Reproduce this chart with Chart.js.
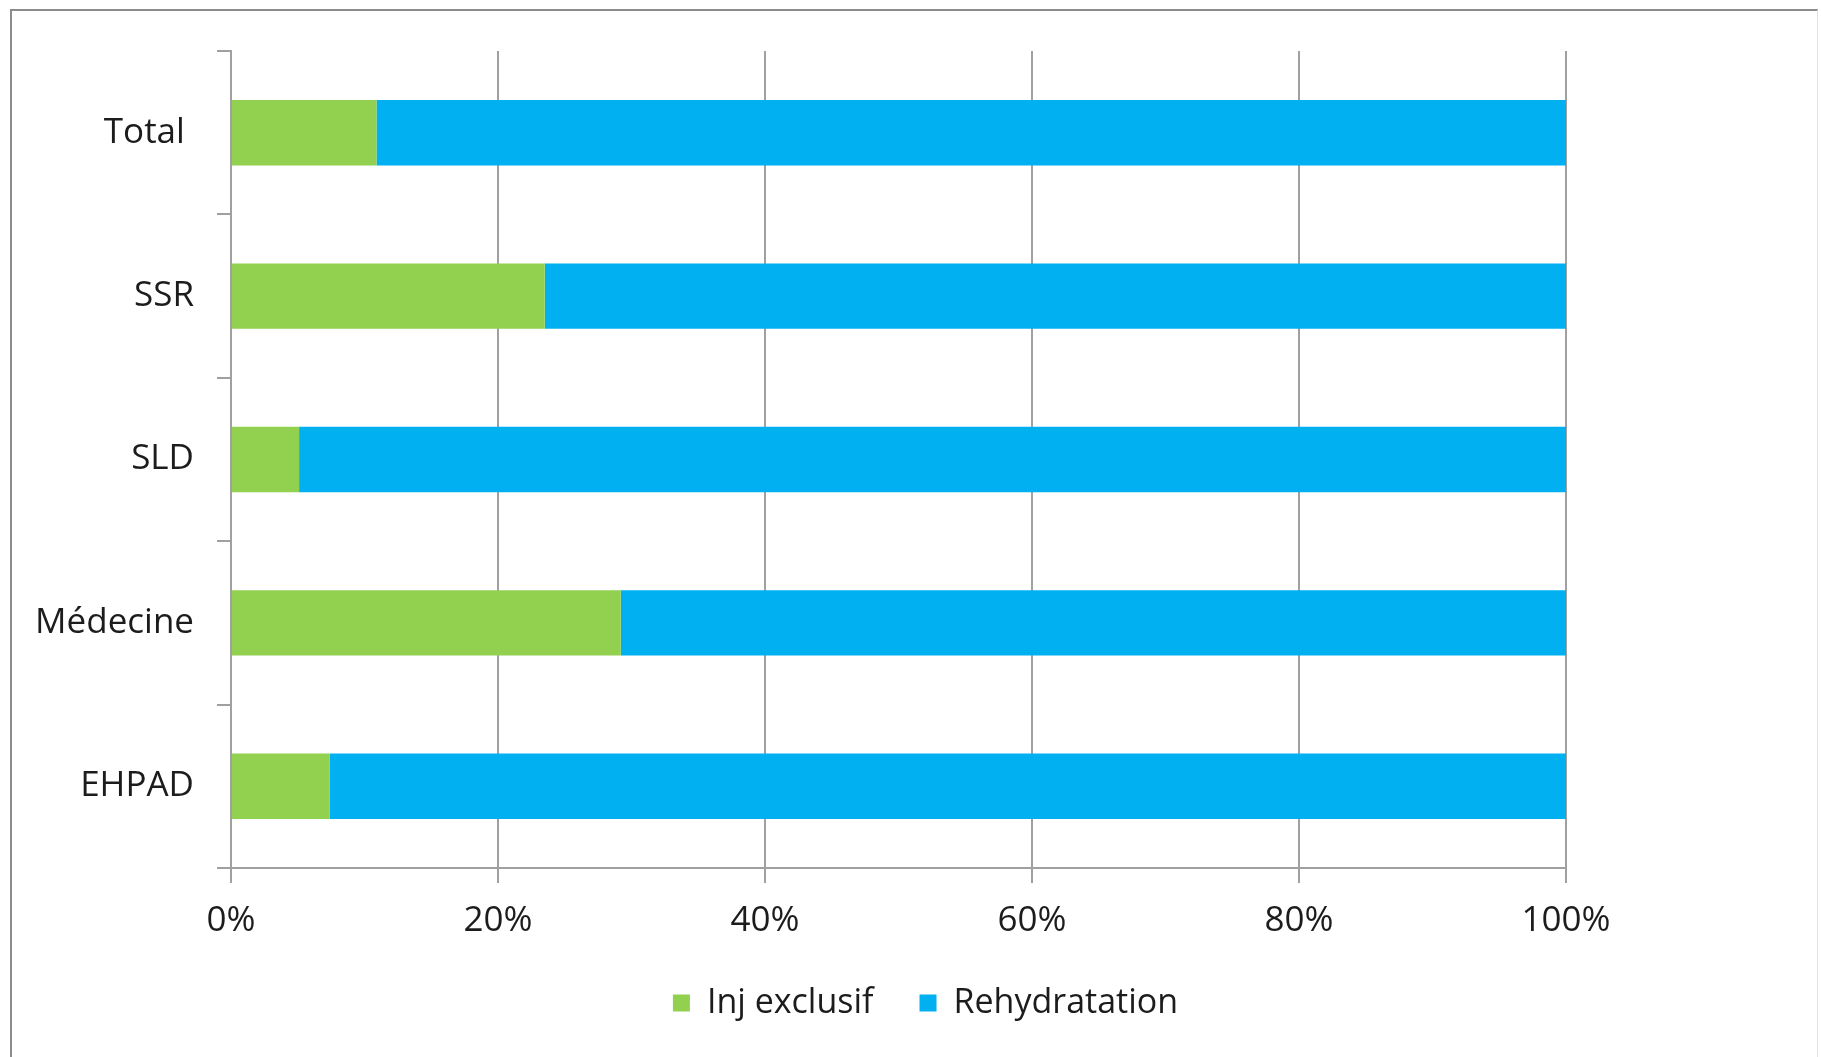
<!DOCTYPE html>
<html lang="fr">
<head>
<meta charset="utf-8">
<title>Inj exclusif / Rehydratation</title>
<script src="https://cdn.jsdelivr.net/npm/chart.js@4/dist/chart.umd.min.js"></script>
<style>
    html, body { margin: 0; padding: 0; background: #fff; overflow: hidden; }
    #wrap { position: relative; width: 1821px; height: 1057px; }
    #frame {
        position: absolute; left: 10px; top: 9px; width: 1808px; height: 1100px;
        border-left: 2px solid #8c8c8c; border-top: 2px solid #8c8c8c;
        border-right: 1px solid #e2e2e2; box-sizing: border-box;
    }
    canvas { position: absolute; left: 0; top: 0; }
</style>
</head>
<body>
<div id="wrap">
    <div id="frame"></div>
    <canvas id="chart" width="1821" height="1057"></canvas>
</div>
<script>
// Catégories et parts (%) par type de prise en charge
const categories = ['Total ', 'SSR', 'SLD', 'Médecine', 'EHPAD'];
const injExclusif = [10.9, 23.5, 5.1, 29.2, 7.4];
const rehydratation = [89.1, 76.5, 94.9, 70.8, 92.6];
const xTicks = [0, 20, 40, 60, 80, 100];

const GRID = '#a0a0a0';
const TEXT = '#1c1c1c';
Chart.defaults.font.family = '"Open Sans", sans-serif';
Chart.defaults.color = TEXT;

const ctx = document.getElementById('chart').getContext('2d');
new Chart(ctx, {
    type: 'bar',
    data: {
        labels: categories,
        datasets: [
            {
                label: 'Inj exclusif',
                data: injExclusif,
                backgroundColor: '#92d050',
                barPercentage: 0.4,
                categoryPercentage: 1
            },
            {
                label: 'Rehydratation',
                data: rehydratation,
                backgroundColor: '#00b0f0',
                barPercentage: 0.4,
                categoryPercentage: 1
            }
        ]
    },
    options: {
        indexAxis: 'y',
        responsive: false,
        animation: false,
        layout: { padding: { left: 0, right: 255, top: 51, bottom: 27 } },
        plugins: {
            tooltip: { enabled: false },
            legend: {
                position: 'bottom',
                labels: {
                    boxWidth: 17,
                    boxHeight: 17,
                    padding: 46,
                    color: TEXT,
                    font: { size: 34 }
                }
            }
        },
        scales: {
            x: {
                stacked: true,
                min: 0,
                max: 100,
                afterBuildTicks: (scale) => {
                    scale.ticks = xTicks.map(v => ({ value: v }));
                },
                afterFit: (scale) => { scale.height = 72; },
                ticks: {
                    padding: 17,
                    color: TEXT,
                    font: { size: 35 },
                    callback: (v) => v + '%'
                },
                grid: {
                    color: GRID,
                    lineWidth: 2,
                    tickLength: 15,
                    drawTicks: true
                },
                border: { display: false }
            },
            y: {
                stacked: true,
                afterFit: (scale) => { scale.width = 231; },
                ticks: {
                    padding: 23,
                    color: TEXT,
                    font: { size: 35 }
                },
                grid: {
                    offset: true,
                    drawOnChartArea: false,
                    color: GRID,
                    lineWidth: 2,
                    tickLength: 14
                },
                border: { display: true, color: GRID, width: 2 }
            }
        }
    },
    plugins: [{
        // légende centrée sous le graphique, un peu décalée vers la droite
        id: 'legendFullWidth',
        afterLayout(chart) {
            const lg = chart.legend;
            if (!lg) return;
            lg.left = 30;
            lg.right = chart.width;
            lg.width = chart.width - 30;
        }
    }, {
        // axe horizontal du bas, prolongé jusqu'à la graduation de gauche
        id: 'baseLine',
        afterDatasetsDraw(chart) {
            const { ctx, chartArea } = chart;
            ctx.save();
            ctx.strokeStyle = GRID;
            ctx.lineWidth = 2;
            ctx.beginPath();
            ctx.moveTo(chartArea.left - 14, chartArea.bottom);
            ctx.lineTo(chartArea.right, chartArea.bottom);
            ctx.stroke();
            ctx.restore();
        }
    }]
});
</script>
</body>
</html>
